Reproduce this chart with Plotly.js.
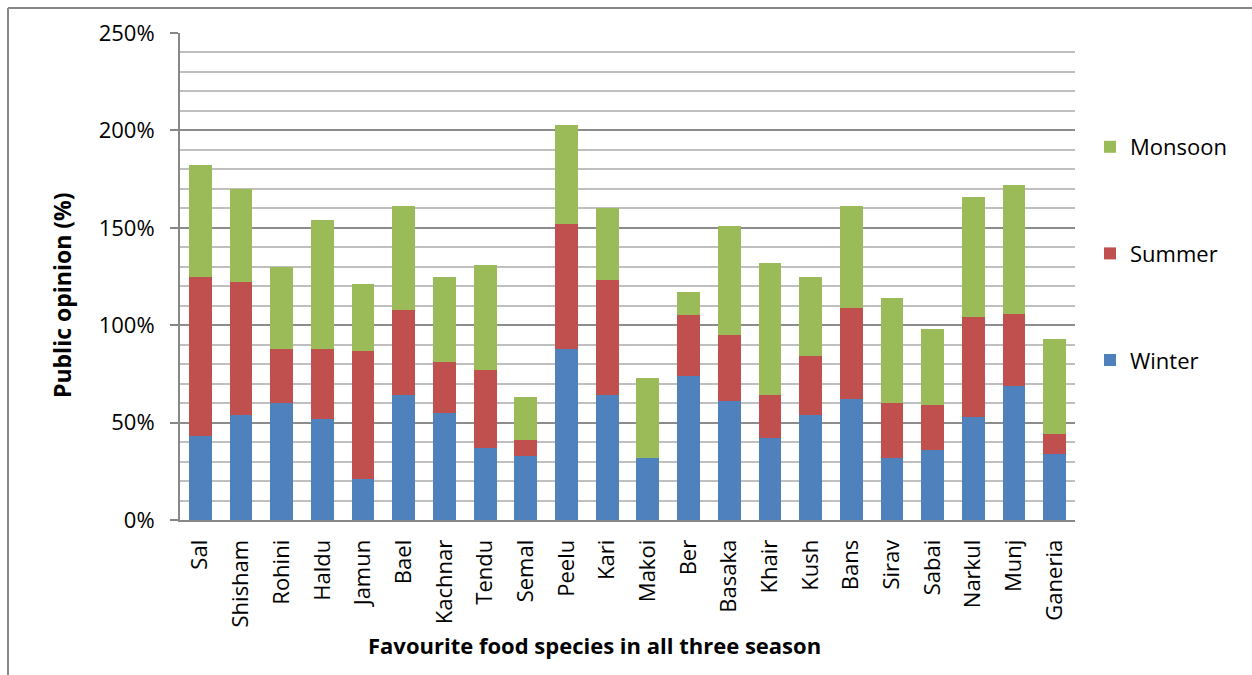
<!DOCTYPE html>
<html>
<head>
<meta charset="utf-8">
<script src="https://cdn.plot.ly/plotly-3.0.1.min.js"></script>
<style>
html,body{margin:0;padding:0;background:#fff;}
#chart{width:1252px;height:675px;}
</style>
</head>
<body>
<div id="chart"></div>
<script>
const species = ["Sal","Shisham","Rohini","Haldu","Jamun","Bael","Kachnar","Tendu","Semal","Peelu","Kari","Makoi","Ber","Basaka","Khair","Kush","Bans","Sirav","Sabai","Narkul","Munj","Ganeria"];
const winter  = [43,54,60,52,21,64,55,37,33,88,64,32,74,61,42,54,62,32,36,53,69,34];
const summer  = [82,68,28,36,66,44,26,40,8,64,59,0,31,34,22,30,47,28,23,51,37,10];
const monsoon = [57,48,42,66,34,53,44,54,22,51,37,41,12,56,68,41,52,54,39,62,66,49];
const seriesNames = ["Winter","Summer","Monsoon"];
const seriesColors = ["#4F81BD","#C0504D","#9BBB59"];

const F = '"Open Sans", "Noto Sans", sans-serif';
const FB = '"Open Sans", sans-serif';

const vals = [winter, summer, monsoon];
const traces = vals.map((v,i)=>({
  type:'bar',
  name: seriesNames[i],
  x: species,
  y: v,
  legendgroup: seriesNames[i],
  legendrank: 3-i,
  marker:{color: seriesColors[i], line:{width:0}},
  hovertemplate: '%{x}: %{y}%<extra>'+seriesNames[i]+'</extra>'
}));

const L=180, R=1075, T=33, B=520;
const pw=R-L, ph=B-T;
const px = x => (x-L)/pw;
const py = y => (B-y)/ph;

const layout = {
  width:1252, height:675,
  margin:{l:L, r:1252-R, t:T, b:675-B, pad:0},
  paper_bgcolor:'#fff', plot_bgcolor:'#fff',
  barmode:'stack',
  bargap:0.44,
  showlegend:true,
  legend:{
    x: px(1090), xanchor:'left',
    y: py(126), yanchor:'top',
    traceorder:'grouped',
    tracegroupgap: 75,
    font:{family:F, size:22, color:'#000'},
    bgcolor:'rgba(0,0,0,0)'
  },
  xaxis:{
    type:'category',
    tickangle:-90,
    tickfont:{family:F, size:22, color:'#000'},
    showline:true, linecolor:'#878787', linewidth:2,
    ticks:'', showgrid:false,
    ticklabelstandoff:9,
    fixedrange:true
  },
  yaxis:{
    range:[0,250],
    dtick:50, tick0:0,
    ticksuffix:'%',
    tickfont:{family:F, size:22, color:'#000'},
    showline:true, linecolor:'#878787', linewidth:2,
    ticks:'outside', ticklen:8, tickcolor:'#878787', tickwidth:2,
    ticklabelstandoff:11,
    showgrid:true, gridcolor:'#8c8c8c', gridwidth:1.5,
    minor:{dtick:10, showgrid:true, gridcolor:'#bfbfbf', gridwidth:1.5},
    zeroline:false,
    fixedrange:true
  },
  annotations:[
    {text:'<b>Public opinion (%)</b>', xref:'paper', yref:'paper', x:px(62), y:py(295),
     xanchor:'center', yanchor:'middle', textangle:-90, showarrow:false,
     font:{family:FB, size:23, color:'#000'}},
    {text:'<b>Favourite food species in all three season</b>', xref:'paper', yref:'paper', x:px(594), y:py(645),
     xanchor:'center', yanchor:'middle', showarrow:false,
     font:{family:FB, size:22, color:'#000'}}
  ],
  shapes:[
    {type:'line', xref:'paper', yref:'paper', x0:px(8), x1:px(1260), y0:py(8), y1:py(8), line:{color:'#878787', width:2}},
    {type:'line', xref:'paper', yref:'paper', x0:px(8), x1:px(8), y0:py(8), y1:py(690), line:{color:'#878787', width:2}}
  ]
};

Plotly.newPlot('chart', traces, layout, {displayModeBar:false, responsive:false});
</script>
</body>
</html>
